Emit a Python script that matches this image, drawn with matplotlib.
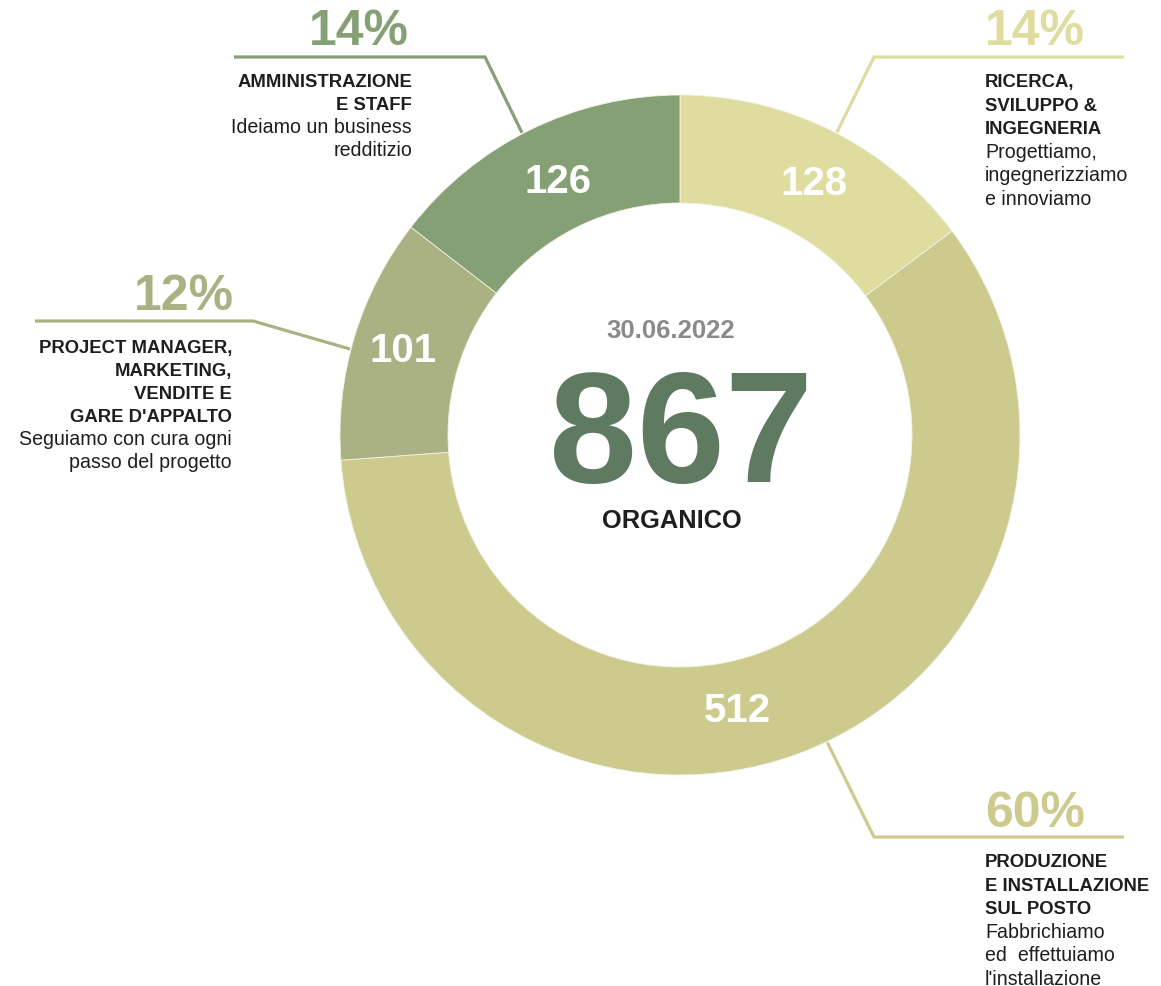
import matplotlib
matplotlib.use("Agg")
import matplotlib.pyplot as plt
import numpy as np

# ---------------- data ----------------
departments = ["RICERCA, SVILUPPO & INGEGNERIA", "PRODUZIONE E INSTALLAZIONE SUL POSTO",
               "PROJECT MANAGER, MARKETING, VENDITE E GARE D'APPALTO", "AMMINISTRAZIONE E STAFF"]
headcount = [128, 512, 101, 126]
percent_labels = ["14%", "60%", "12%", "14%"]
title_lines = [
    ["RICERCA,", "SVILUPPO &", "INGEGNERIA"],
    ["PRODUZIONE", "E INSTALLAZIONE", "SUL POSTO"],
    ["PROJECT MANAGER,", "MARKETING,", "VENDITE E", "GARE D'APPALTO"],
    ["AMMINISTRAZIONE", "E STAFF"],
]
desc_lines = [
    ["Progettiamo,", "ingegnerizziamo", "e innoviamo"],
    ["Fabbrichiamo", "ed  effettuiamo", "l'installazione"],
    ["Seguiamo con cura ogni", "passo del progetto"],
    ["Ideiamo un business", "redditizio"],
]
total_label = "867"
date_label = "30.06.2022"
center_caption = "ORGANICO"

# ---------------- style / layout ----------------
colors = ["#DEDC9F", "#CDCA8E", "#AAB284", "#86A075"]
W, H = 1161, 987
CX, CY = 680, 436          # pixel coords (y from top)
R_OUT, R_IN = 340, 232
FONT = "Liberation Sans"
TXT = "#1E1E1E"

def Y(y):  # convert top-based pixel y to data y
    return H - y

fig = plt.figure(figsize=(W / 100, H / 100), dpi=100)
ax = fig.add_axes([0, 0, 1, 1])
ax.pie(headcount, colors=colors, startangle=90, counterclock=False,
       radius=R_OUT, center=(CX, Y(CY)),
       wedgeprops=dict(width=R_OUT - R_IN, edgecolor="#F2F2E6", linewidth=0.6))
ax.set_xlim(0, W)
ax.set_ylim(0, H)
ax.set_aspect("equal")
ax.axis("off")

# value labels inside ring: (angle clockwise from top in degrees, radius)
value_pos = [(28.0, 285), (168.3, 281), (287.0, 290), (334.3, 282)]
for v, (a, r) in zip(headcount, value_pos):
    t = np.deg2rad(a)
    x = CX + r * np.sin(t)
    y = CY - r * np.cos(t)
    ax.text(x, Y(y), str(v), ha="center", va="center", color="white",
            fontsize=29, fontweight="bold", family=FONT)

# leader lines: anchor angle on outer circle, elbow point, end of horizontal
leaders = [
    (27.4, (874, 58), (1124, 58)),
    (154.4, (874, 838), (1124, 838)),
    (284.6, (253, 322), (35, 322)),
    (332.4, (485, 58), (234, 58)),
]
for c, (a, elbow, end) in zip(colors, leaders):
    t = np.deg2rad(a)
    sx = CX + (R_OUT + 1) * np.sin(t)
    sy = CY - (R_OUT + 1) * np.cos(t)
    ax.plot([sx, elbow[0], end[0]], [Y(sy), Y(elbow[1]), Y(end[1])],
            color=c, lw=2.3, solid_capstyle="butt", solid_joinstyle="miter")

# label blocks: (x anchor, ha, percent baseline, first text baseline, line step)
blocks = [
    (985, "left", 45, 87, 23.6),
    (985, "left", 827, 867, 23.6),
    (232, "right", 310, 353, 23.0),
    (412, "right", 45, 87, 23.0),
]
pct_x = [985, 985, 234, 409]
for i, (x, ha, pb, fb, step) in enumerate(blocks):
    ax.text(pct_x[i], Y(pb), percent_labels[i], ha=ha, va="baseline",
            color=colors[i], fontsize=36, fontweight="bold", family=FONT)
    lines = [(s, "bold", 13.3) for s in title_lines[i]] + \
            [(s, "normal", 14.1) for s in desc_lines[i]]
    for k, (s, w, fs) in enumerate(lines):
        ax.text(x, Y(fb + k * step), s, ha=ha, va="baseline", color=TXT,
                fontsize=fs, fontweight=w, family=FONT)

# center texts
ax.text(671, Y(338), date_label, ha="center", va="baseline", color="#8A8A8A",
        fontsize=18.5, fontweight="bold", family=FONT)
ax.text(681, Y(482), total_label, ha="center", va="baseline", color="#5E7A60",
        fontsize=114, fontweight="bold", family=FONT)
ax.text(672, Y(528), center_caption, ha="center", va="baseline", color=TXT,
        fontsize=18.3, fontweight="bold", family=FONT)

fig.savefig("out.png", dpi=100, facecolor="white")
